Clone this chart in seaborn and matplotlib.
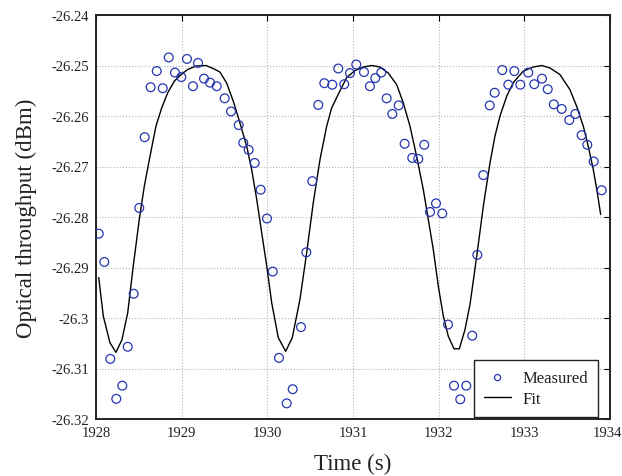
import matplotlib
matplotlib.use("Agg")
import matplotlib.pyplot as plt
import matplotlib.transforms as mtransforms
import seaborn as sns
import pandas as pd
from matplotlib.ticker import FixedLocator, FuncFormatter

# Measured optical throughput samples
time_meas = [
    1928.032, 1928.097, 1928.167, 1928.237, 1928.307, 1928.370, 1928.440, 1928.505,
    1928.568, 1928.638, 1928.709, 1928.779, 1928.849, 1928.922, 1928.996, 1929.062,
    1929.132, 1929.191, 1929.261, 1929.331, 1929.409, 1929.502, 1929.576, 1929.666,
    1929.719, 1929.782, 1929.852, 1929.922, 1929.996, 1930.063, 1930.136, 1930.226,
    1930.296, 1930.393, 1930.455, 1930.525, 1930.595, 1930.665, 1930.758, 1930.828,
    1930.898, 1930.965, 1931.038, 1931.128, 1931.198, 1931.260, 1931.330, 1931.393,
    1931.459, 1931.533, 1931.603, 1931.692, 1931.762, 1931.832, 1931.899, 1931.969,
    1932.042, 1932.109, 1932.179, 1932.252, 1932.322, 1932.392, 1932.451, 1932.521,
    1932.596, 1932.654, 1932.743, 1932.813, 1932.883, 1932.953, 1933.046, 1933.116,
    1933.206, 1933.273, 1933.344, 1933.436, 1933.525, 1933.595, 1933.669, 1933.735,
    1933.809, 1933.903,
]
power_meas = [
    -26.2833, -26.2889, -26.3081, -26.3160, -26.3134, -26.3057, -26.2952, -26.2782,
    -26.2642, -26.2543, -26.2511, -26.2545, -26.2484, -26.2514, -26.2523, -26.2487,
    -26.2541, -26.2495, -26.2526, -26.2534, -26.2541, -26.2565, -26.2591, -26.2618,
    -26.2653, -26.2667, -26.2693, -26.2746, -26.2803, -26.2908, -26.3079, -26.3169,
    -26.3141, -26.3018, -26.2870, -26.2729, -26.2578, -26.2535, -26.2538, -26.2506,
    -26.2537, -26.2515, -26.2498, -26.2513, -26.2541, -26.2525, -26.2514, -26.2565,
    -26.2596, -26.2579, -26.2655, -26.2683, -26.2685, -26.2657, -26.2790, -26.2773,
    -26.2793, -26.3013, -26.3134, -26.3161, -26.3134, -26.3035, -26.2875, -26.2717,
    -26.2579, -26.2554, -26.2509, -26.2538, -26.2511, -26.2538, -26.2514, -26.2537,
    -26.2526, -26.2547, -26.2577, -26.2586, -26.2608, -26.2596, -26.2638, -26.2657,
    -26.2690, -26.2747,
]

# Fitted curve
time_fit = [
    1928.032, 1928.085, 1928.163, 1928.233, 1928.303, 1928.370, 1928.435, 1928.505,
    1928.564, 1928.630, 1928.700, 1928.767, 1928.837, 1928.914, 1928.992, 1929.070,
    1929.167, 1929.284, 1929.381, 1929.447, 1929.526, 1929.603, 1929.681, 1929.759,
    1929.817, 1929.876, 1929.934, 1929.993, 1930.051, 1930.128, 1930.214, 1930.291,
    1930.381, 1930.459, 1930.536, 1930.615, 1930.693, 1930.751, 1930.848, 1930.926,
    1931.023, 1931.120, 1931.218, 1931.315, 1931.412, 1931.510, 1931.587, 1931.665,
    1931.743, 1931.821, 1931.879, 1931.937, 1931.996, 1932.054, 1932.112, 1932.179,
    1932.241, 1932.307, 1932.366, 1932.444, 1932.521, 1932.599, 1932.657, 1932.716,
    1932.794, 1932.871, 1932.988, 1933.105, 1933.203, 1933.300, 1933.416, 1933.533,
    1933.611, 1933.688, 1933.746, 1933.805, 1933.852, 1933.891,
]
power_fit = [
    -26.2920, -26.2996, -26.3049, -26.3068, -26.3043, -26.2990, -26.2897, -26.2805,
    -26.2739, -26.2680, -26.2620, -26.2584, -26.2554, -26.2531, -26.2518, -26.2508,
    -26.2501, -26.2500, -26.2507, -26.2513, -26.2535, -26.2571, -26.2614, -26.2660,
    -26.2706, -26.2765, -26.2831, -26.2897, -26.2970, -26.3039, -26.3066, -26.3039,
    -26.2963, -26.2871, -26.2772, -26.2686, -26.2620, -26.2584, -26.2550, -26.2524,
    -26.2510, -26.2503, -26.2500, -26.2503, -26.2515, -26.2538, -26.2574, -26.2620,
    -26.2680, -26.2746, -26.2805, -26.2864, -26.2937, -26.2996, -26.3036, -26.3061,
    -26.3061, -26.3023, -26.2973, -26.2878, -26.2779, -26.2693, -26.2640, -26.2600,
    -26.2561, -26.2534, -26.2511, -26.2503, -26.2500, -26.2505, -26.2518, -26.2548,
    -26.2581, -26.2620, -26.2660, -26.2706, -26.2752, -26.2795,
]

x_ticks = [1928, 1929, 1930, 1931, 1932, 1933, 1934]
y_ticks = [-26.32, -26.31, -26.30, -26.29, -26.28, -26.27, -26.26, -26.25, -26.24]

meas_df = pd.DataFrame({"t": time_meas, "p": power_meas})
fit_df = pd.DataFrame({"t": time_fit, "p": power_fit})

sns.set_theme(style="white")
plt.rcParams["font.family"] = ["Liberation Serif", "DejaVu Serif"]
plt.rcParams["text.color"] = "#222222"
plt.rcParams["axes.labelcolor"] = "#222222"
plt.rcParams["xtick.color"] = "black"
plt.rcParams["ytick.color"] = "black"
plt.rcParams["xtick.labelcolor"] = "#222222"
plt.rcParams["ytick.labelcolor"] = "#222222"

fig = plt.figure(figsize=(6.22, 4.77), dpi=100)
ax = fig.add_axes([96 / 622, 1 - 420 / 477, 514 / 622, 404 / 477])

sns.scatterplot(data=meas_df, x="t", y="p", ax=ax, marker="o", s=40,
                facecolor="none", edgecolor="#2536b0", linewidth=0.9,
                label="Measured", zorder=3)
sns.lineplot(data=fit_df, x="t", y="p", ax=ax, sort=False, estimator=None,
             color="black", linewidth=1.0, label="Fit", zorder=2)

ax.set_xlim(1928, 1934)
ax.set_ylim(-26.32, -26.24)
ax.xaxis.set_major_locator(FixedLocator(x_ticks))
ax.yaxis.set_major_locator(FixedLocator(y_ticks))
ax.yaxis.set_major_formatter(FuncFormatter(lambda v, _: f"{round(v, 4):g}"))
ax.xaxis.set_major_formatter(FuncFormatter(lambda v, _: f"{int(round(v))}"))

ax.grid(True, linestyle=":", color="#b5b5b5", linewidth=0.8)
ax.tick_params(direction="in", length=4, width=0.8, top=True, right=True,
               labelsize=10.5, pad=5)
for sp in ax.spines.values():
    sp.set_color("#222222")
    sp.set_linewidth(1.4)

# keep the last x tick label inside the canvas
fig.canvas.draw()
last_label = ax.get_xticklabels()[-1]
last_label.set_transform(last_label.get_transform() +
                         mtransforms.ScaledTranslation(-3 / 100, 0, fig.dpi_scale_trans))

ax.set_xlabel("Time (s)", fontsize=16.5, labelpad=10)
ax.set_ylabel("Optical throughput (dBm)", fontsize=16.5, labelpad=10)

leg = ax.legend(loc="lower right", bbox_to_anchor=(0.977, 0.005),
                borderaxespad=0, fontsize=12, frameon=True, fancybox=False,
                handlelength=1.6, handletextpad=0.7, borderpad=0.6,
                labelspacing=0.3, markerscale=0.7)
leg.get_frame().set_edgecolor("#222222")
leg.get_frame().set_linewidth(1.0)
leg.get_frame().set_alpha(1)

fig.savefig("out.png", dpi=100)
